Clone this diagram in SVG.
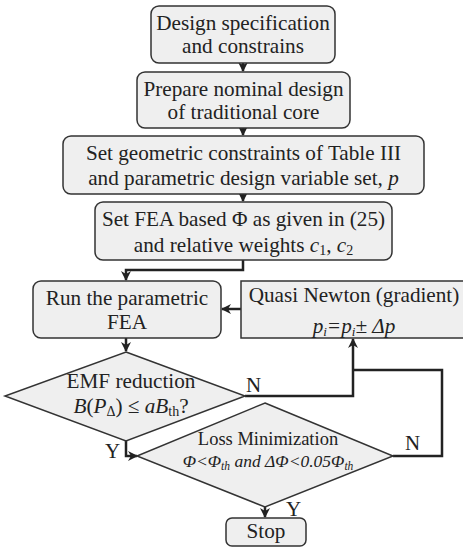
<svg xmlns="http://www.w3.org/2000/svg" width="463" height="548" viewBox="0 0 463 548">
  <style>
    .box { fill: #efefef; stroke: #333; stroke-width: 1.5; }
    text { font-family: 'Liberation Serif', 'Times New Roman', serif; }
    .t { font-size: 21.2px; fill: #222; text-anchor: middle; }
    .lbl { font-size: 21px; fill: #222; }
    .it { font-style: italic; }
    .wire { fill: none; stroke: #222; stroke-width: 2.5; }
  </style>
  <defs>
    <marker id="arrow" viewBox="0 0 10 10" refX="9" refY="5" markerWidth="10" markerHeight="10" markerUnits="userSpaceOnUse" orient="auto">
      <path d="M0,0 L10,5 L0,10 L3,5 Z" fill="#222"/>
    </marker>
  </defs>

  <rect width="463" height="548" fill="#ffffff"/>

  <!-- connectors -->
  <g id="connectors">
    <path class="wire" d="M243,63 V71" marker-end="url(#arrow)"/>
    <path class="wire" d="M243,128 V135" marker-end="url(#arrow)"/>
    <path class="wire" d="M243,194 V201" marker-end="url(#arrow)"/>
    <path class="wire" d="M243,260 V270 H126 V280" marker-end="url(#arrow)"/>
    <path class="wire" d="M241,309 H222" marker-end="url(#arrow)"/>
    <path class="wire" d="M126,338 V351" marker-end="url(#arrow)"/>
    <path class="wire" d="M245,396 H353 V339" marker-end="url(#arrow)"/>
    <path class="wire" d="M393,456 H442 V370 H353"/>
    <path class="wire" d="M126,441 V456 H137" marker-end="url(#arrow)"/>
    <path class="wire" d="M265,507 V517" marker-end="url(#arrow)"/>
    <text class="lbl" x="246" y="392">N</text>
    <text class="lbl" x="405" y="450">N</text>
    <text class="lbl" x="105" y="458">Y</text>
    <text class="lbl" x="286" y="516">Y</text>
  </g>

  <g id="spec">
    <rect class="box" x="151" y="6" width="184" height="57" rx="8"/>
    <text class="t" x="243" y="29.5">Design specification</text>
    <text class="t" x="243" y="53">and constrains</text>
  </g>

  <g id="nominal">
    <rect class="box" x="137" y="72" width="213" height="56" rx="8"/>
    <text class="t" x="243.5" y="96">Prepare nominal design</text>
    <text class="t" x="243.5" y="119">of traditional core</text>
  </g>

  <g id="constraints">
    <rect class="box" x="63" y="136" width="361" height="58" rx="8"/>
    <text class="t" x="243.5" y="160">Set geometric constraints of Table III</text>
    <text class="t" x="243.5" y="185">and parametric design variable set, <tspan class="it">p</tspan></text>
  </g>

  <g id="objective">
    <rect class="box" x="95" y="202" width="297" height="58" rx="8"/>
    <text class="t" x="243.5" y="226">Set FEA based Φ as given in (25)</text>
    <text class="t" x="243.5" y="252">and relative weights <tspan class="it">c</tspan><tspan font-size="14" dy="3">1</tspan><tspan dy="-3">, </tspan><tspan class="it">c</tspan><tspan font-size="14" dy="3">2</tspan></text>
  </g>

  <g id="run-fea">
    <rect class="box" x="33" y="281" width="188" height="57" rx="8"/>
    <text class="t" x="127" y="305">Run the parametric</text>
    <text class="t" x="127" y="329">FEA</text>
  </g>

  <g id="quasi-newton">
    <rect class="box" x="241" y="281" width="226" height="57"/>
    <text class="t" x="354" y="302">Quasi Newton (gradient)</text>
    <text class="t it" x="354" y="333">p<tspan font-size="13" dy="3">i</tspan><tspan dy="-3">=p</tspan><tspan font-size="13" dy="3">i</tspan><tspan dy="-3">± Δp</tspan></text>
  </g>

  <g id="emf-check">
    <polygon class="box" points="126,352 245,396 126,441 5,396"/>
    <text class="t" x="131" y="388">EMF reduction</text>
    <text class="t" x="131" y="413"><tspan class="it">B</tspan>(<tspan class="it">P</tspan><tspan font-size="14" dy="3">Δ</tspan><tspan dy="-3">) ≤ </tspan><tspan class="it">aB</tspan><tspan font-size="14" dy="3">th</tspan><tspan dy="-3">?</tspan></text>
  </g>

  <g id="loss-check">
    <polygon class="box" points="265,403 393,456 265,507 137,456"/>
    <text class="t" x="268" y="445" style="font-size:18.5px">Loss Minimization</text>
    <text class="t it" x="268" y="467" style="font-size:17.5px">Φ&lt;Φ<tspan font-size="11.5" dy="3">th</tspan><tspan dy="-3"> and ΔΦ&lt;0.05Φ</tspan><tspan font-size="11.5" dy="3">th</tspan></text>
  </g>

  <g id="stop">
    <rect class="box" x="226" y="518" width="80" height="28" rx="6"/>
    <text class="t" x="266" y="538">Stop</text>
  </g>
</svg>
